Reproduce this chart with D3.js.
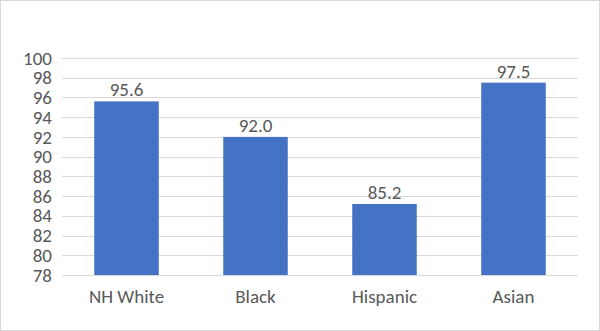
<!DOCTYPE html>
<html>
<head>
<meta charset="utf-8">
<script src="https://cdn.jsdelivr.net/npm/d3@7"></script>
<style>
  html, body { margin: 0; padding: 0; background: #fff; }
  svg { display: block; }
  text { font-family: Carlito, "Liberation Sans", Arial, sans-serif; fill: #595959; }
</style>
</head>
<body>
<svg id="chart" width="600" height="331"></svg>
<script>
const categories = ["NH White", "Black", "Hispanic", "Asian"];
const values = [95.6, 92.0, 85.2, 97.5];
const yTicks = [78, 80, 82, 84, 86, 88, 90, 92, 94, 96, 98, 100];

const W = 600, H = 331;
const margin = { top: 58, right: 22, bottom: 56, left: 62 };
const fontSize = "19px";

const svg = d3.select("#chart");

// outer chart frame
svg.append("rect")
  .attr("x", 0.5).attr("y", 0.5)
  .attr("width", W - 1).attr("height", H - 1)
  .attr("fill", "#fff").attr("stroke", "#d9d9d9");

const x = d3.scaleBand()
  .domain(categories)
  .range([margin.left, W - margin.right])
  .paddingInner(0.5).paddingOuter(0.25);

const y = d3.scaleLinear()
  .domain([78, 100])
  .range([H - margin.bottom, margin.top]);

// horizontal gridlines
svg.append("g")
  .selectAll("line")
  .data(yTicks)
  .join("line")
  .attr("x1", margin.left).attr("x2", W - margin.right)
  .attr("y1", d => Math.round(y(d)) + 0.5).attr("y2", d => Math.round(y(d)) + 0.5)
  .attr("stroke", "#d9d9d9").attr("stroke-width", 1);

// y axis labels
const yAxis = d3.axisLeft(y).tickValues(yTicks).tickSize(0).tickPadding(10);
const gy = svg.append("g")
  .attr("transform", `translate(${margin.left},0)`)
  .call(yAxis);
gy.select(".domain").remove();
gy.selectAll("text")
  .style("font-size", fontSize)
  .attr("fill", "#595959");

// bars
svg.append("g")
  .selectAll("rect")
  .data(values)
  .join("rect")
  .attr("x", (d, i) => x(categories[i]))
  .attr("width", x.bandwidth())
  .attr("y", d => y(d))
  .attr("height", d => y(78) - y(d))
  .attr("fill", "#4472c4");

// value labels
svg.append("g")
  .selectAll("text")
  .data(values)
  .join("text")
  .attr("x", (d, i) => x(categories[i]) + x.bandwidth() / 2)
  .attr("y", d => y(d) - 5)
  .attr("text-anchor", "middle")
  .style("font-size", fontSize)
  .text(d => d.toFixed(1));

// x axis labels
const xAxis = d3.axisBottom(x).tickSize(0).tickPadding(15);
const gx = svg.append("g")
  .attr("transform", `translate(0,${y(78)})`)
  .call(xAxis);
gx.select(".domain").remove();
gx.selectAll("text")
  .style("font-size", fontSize)
  .attr("fill", "#595959");
</script>
</body>
</html>
